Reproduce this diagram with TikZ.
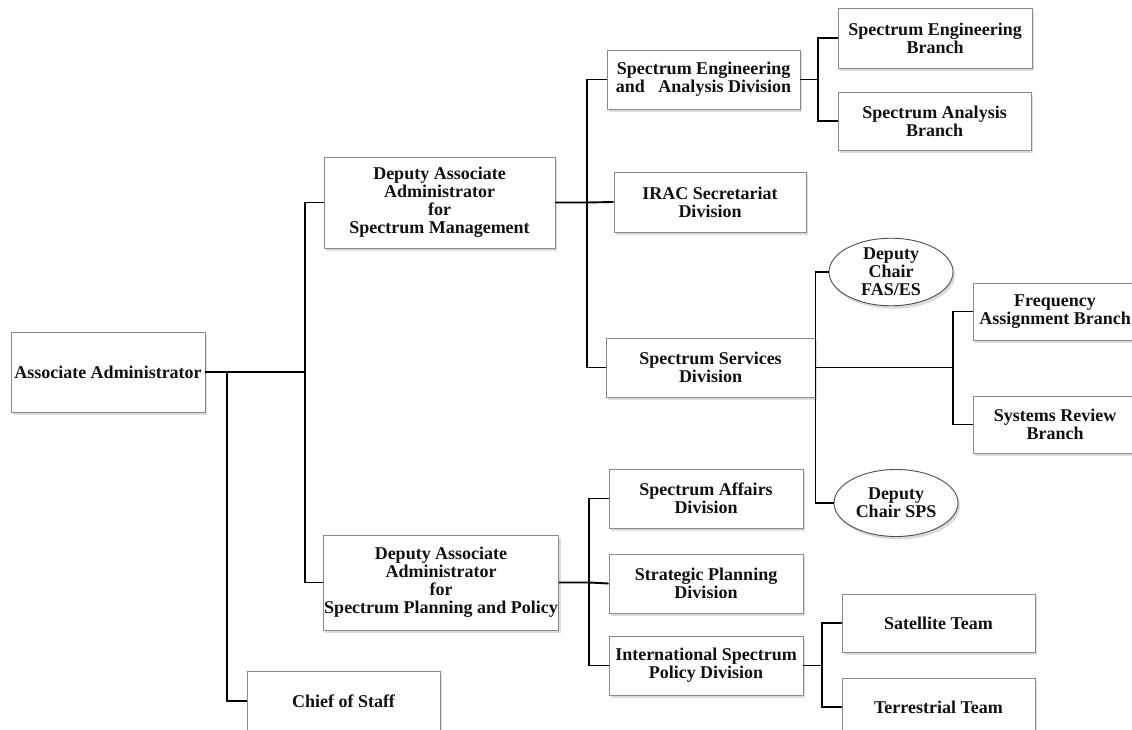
\documentclass[tikz,border=0pt]{standalone}
\usepackage{fontspec}
\setmainfont{Liberation Serif}
\usetikzlibrary{shapes.geometric,shadows}
\definecolor{boxline}{HTML}{8A8A8A}
\definecolor{txt}{HTML}{111111}
\tikzset{
  orgbox/.style={draw=boxline, line width=0.9pt, fill=white, rectangle,
    align=center, inner sep=1pt, text=txt,
    font=\fontsize{18}{17.9}\selectfont\bfseries,
    drop shadow={opacity=0.28, shadow xshift=2pt, shadow yshift=-3pt}},
  orgoval/.style={orgbox, ellipse, inner sep=0pt, draw=black!70},
  link/.style={draw=black, line width=1.9pt}
}
\begin{document}
\begin{tikzpicture}[x=1pt,y=-1pt]
\useasboundingbox (0,0) rectangle (1132,730);
\clip (0,0) rectangle (1132,730);
\fill[white] (0,0) rectangle (1132,730);
% boxes
\node[orgbox, minimum width=194, minimum height=80] (AA) at (108,372) {Associate Administrator};
\node[orgbox, minimum width=231, minimum height=91] (DSM) at (439.5,202.5) {Deputy Associate\\Administrator\\for\\Spectrum Management};
\node[orgbox, minimum width=234, minimum height=95] (DPP) at (441,582.5) {Deputy Associate\\Administrator\\for\\Spectrum Planning and Policy};
\node[orgbox, minimum width=193, minimum height=60] (CoS) at (343.5,701) {Chief of Staff};
\node[orgbox, minimum width=193, minimum height=59] (SEAD) at (703.5,79.5) {Spectrum Engineering\\and\ \ \ Analysis Division};
\node[orgbox, minimum width=192, minimum height=60] (IRAC) at (710,202) {IRAC Secretariat\\Division};
\node[orgbox, minimum width=209, minimum height=59] (SSD) at (710.5,367.5) {Spectrum Services\\Division};
\node[orgbox, minimum width=194, minimum height=60] (SEB) at (935,38) {Spectrum Engineering\\Branch};
\node[orgbox, minimum width=193, minimum height=58] (SAB) at (934.5,121) {Spectrum Analysis\\Branch};
\node[orgbox, minimum width=164, minimum height=57] (FAB) at (1055,311.5) {Frequency\\Assignment Branch};
\node[orgbox, minimum width=164, minimum height=57] (SRB) at (1055,424.5) {Systems Review\\Branch};
\node[orgoval, minimum width=124, minimum height=58] (FAS) at (891,272) {Deputy\\Chair\\FAS/ES};
\node[orgoval, minimum width=124, minimum height=67] (SPS) at (896,503) {Deputy\\Chair SPS};
\node[orgbox, minimum width=194, minimum height=59] (SAD) at (706,498.5) {Spectrum Affairs\\Division};
\node[orgbox, minimum width=194, minimum height=59] (SPD) at (706,583.5) {Strategic Planning\\Division};
\node[orgbox, minimum width=194, minimum height=59] (ISPD) at (706,665.5) {International Spectrum\\Policy Division};
\node[orgbox, minimum width=193, minimum height=58] (Sat) at (938.5,623) {Satellite Team};
\node[orgbox, minimum width=193, minimum height=58] (Ter) at (938.5,707) {Terrestrial Team};
% bus points
\coordinate (b1) at (305,372);
\coordinate (b2) at (227,372);
\coordinate (b3) at (587,202.5);
\coordinate (b4) at (818,79.5);
\coordinate (b6) at (953,367.5);
\coordinate (b7) at (589,582.5);
\coordinate (b8) at (822,665.5);
% connectors
\draw[link] (AA.east) -- (b1);
\draw[link] (DSM.west) -| (b1) |- (DPP.west);
\draw[link] (b2) |- (CoS.west);
\draw[link] (DSM.east) -- (b3) -- (IRAC.west);
\draw[link] (SEAD.west) -| (b3) |- (SSD.west);
\draw[link] (SEAD.east) -- (b4);
\draw[link] (SEB.west) -| (b4) |- (SAB.west);
\draw[link] (FAS.west) -| (SSD.east) |- (SPS.west);
\draw[link] (SSD.east) -- (b6);
\draw[link] (FAB.west) -| (b6) |- (SRB.west);
\draw[link] (DPP.east) -- (b7) -- (SPD.west);
\draw[link] (SAD.west) -| (b7) |- (ISPD.west);
\draw[link] (ISPD.east) -- (b8);
\draw[link] (Sat.west) -| (b8) |- (Ter.west);
\end{tikzpicture}
\end{document}
